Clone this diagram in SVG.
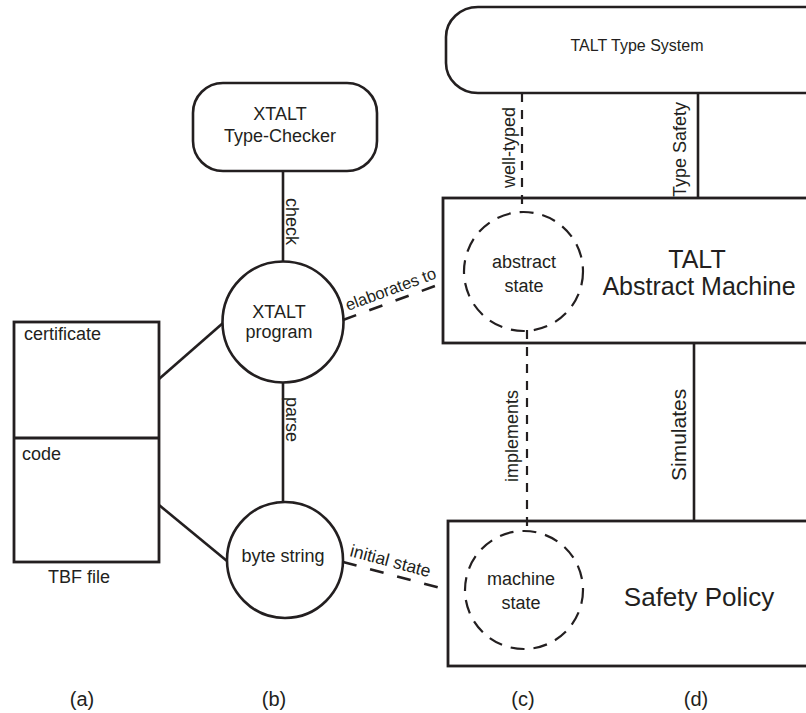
<svg xmlns="http://www.w3.org/2000/svg" width="806" height="713" viewBox="0 0 806 713">
  <style>
    .box { fill: none; stroke: #231f20; stroke-width: 2.8; }
    .node { fill: #ffffff; stroke: #231f20; stroke-width: 2.6; }
    .dcirc { fill: none; stroke: #231f20; stroke-width: 2.2; stroke-dasharray: 14 9; }
    .solid { fill: none; stroke: #231f20; stroke-width: 2.6; }
    .dash { fill: none; stroke: #231f20; stroke-width: 2.2; stroke-dasharray: 9 8; }
    .dashlong { fill: none; stroke: #231f20; stroke-width: 2.6; stroke-dasharray: 14 14; }
    text { font-family: "Liberation Sans", Arial, sans-serif; fill: #231f20; }
    .c { text-anchor: middle; }
    .t18 { font-size: 18px; }
    .big { font-size: 25px; }
  </style>

  <!-- connectors -->
  <g id="connectors">
    <line class="solid" x1="283" y1="171" x2="283" y2="262"/>
    <line class="solid" x1="283" y1="383" x2="283" y2="502"/>
    <line class="solid" x1="159" y1="379" x2="223" y2="323"/>
    <line class="solid" x1="159" y1="505" x2="227" y2="561"/>
    <line class="dashlong" x1="343" y1="320" x2="443" y2="283"/>
    <line class="dashlong" x1="343" y1="562" x2="448" y2="590"/>
    <line class="dash" x1="522" y1="93" x2="522" y2="212"/>
    <line class="dash" x1="527" y1="330" x2="527" y2="531"/>
    <line class="solid" x1="698" y1="93" x2="698" y2="198"/>
    <line class="solid" x1="694" y1="343" x2="694" y2="521"/>

    <text class="t18" transform="translate(286,198) rotate(90)">check</text>
    <text class="t18" transform="translate(286,397) rotate(90)">parse</text>
    <text class="t18" transform="translate(515,188) rotate(-90)">well-typed</text>
    <text class="t18" transform="translate(686,197) rotate(-90)">Type Safety</text>
    <text class="t18" transform="translate(518,482) rotate(-90)">implements</text>
    <text style="font-size:21px" transform="translate(686,481) rotate(-90)">Simulates</text>
    <text style="font-size:16.5px" transform="translate(348,311) rotate(-20.3)">elaborates to</text>
    <text style="font-size:17.5px" transform="translate(349,556) rotate(14.9)">initial state</text>
  </g>

  <!-- (a) TBF file -->
  <g id="tbf-file">
    <rect class="box" x="14" y="322" width="145" height="240"/>
    <line class="box" x1="14" y1="438" x2="159" y2="438"/>
    <text class="t18" x="24" y="340">certificate</text>
    <text class="t18" x="22" y="460">code</text>
    <text class="t18 c" x="79" y="583">TBF file</text>
  </g>

  <!-- (b) checker, program, byte string -->
  <g id="type-checker">
    <rect class="node" x="193" y="83" width="184" height="88" rx="30" ry="30"/>
    <text class="t18 c" x="280" y="120">XTALT</text>
    <text class="t18 c" x="280" y="142">Type-Checker</text>
  </g>
  <g id="xtalt-program">
    <circle class="node" cx="283" cy="322" r="60.5"/>
    <text class="t18 c" x="279" y="318">XTALT</text>
    <text class="t18 c" x="279" y="338">program</text>
  </g>
  <g id="byte-string">
    <circle class="node" cx="285" cy="560" r="58"/>
    <text class="t18 c" x="283" y="562">byte string</text>
  </g>

  <!-- (c)/(d) TALT side -->
  <g id="type-system">
    <rect class="node" x="446" y="7" width="390" height="86" rx="32" ry="30"/>
    <text class="c" style="font-size:16px" x="637" y="51">TALT Type System</text>
  </g>
  <g id="abstract-machine">
    <rect class="box" x="443" y="198" width="390" height="145"/>
    <text class="big c" x="697" y="268">TALT</text>
    <text class="big c" x="699" y="295">Abstract Machine</text>
  </g>
  <g id="abstract-state">
    <circle class="dcirc" cx="523.5" cy="271.5" r="59.5"/>
    <text class="t18 c" x="524" y="268">abstract</text>
    <text class="t18 c" x="524" y="292">state</text>
  </g>
  <g id="safety-policy">
    <rect class="box" x="448" y="521" width="390" height="145"/>
    <text class="c" style="font-size:26px" x="699" y="606">Safety Policy</text>
  </g>
  <g id="machine-state">
    <circle class="dcirc" cx="524" cy="590" r="59"/>
    <text class="t18 c" x="521" y="585">machine</text>
    <text class="t18 c" x="521" y="609">state</text>
  </g>

  <!-- column captions -->
  <g id="captions">
    <text class="c" style="font-size:20px" x="82" y="706">(a)</text>
    <text class="c" style="font-size:20px" x="274" y="706">(b)</text>
    <text class="c" style="font-size:20px" x="523" y="706">(c)</text>
    <text class="c" style="font-size:20px" x="696" y="706">(d)</text>
  </g>
</svg>
